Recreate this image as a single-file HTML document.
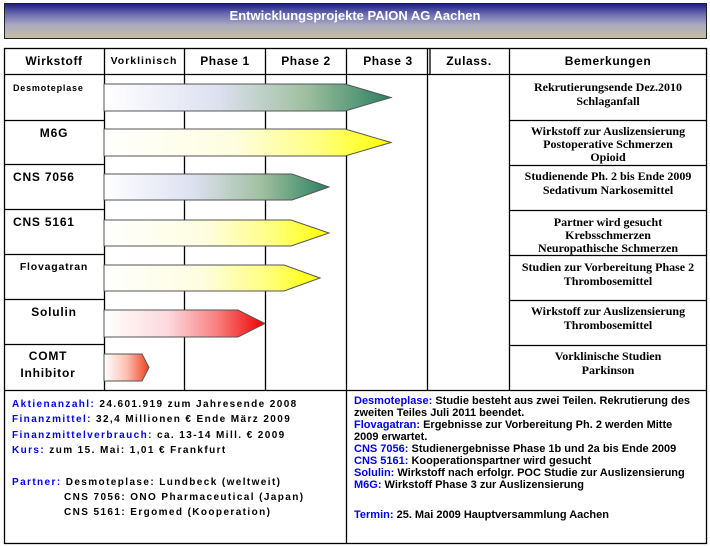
<!DOCTYPE html>
<html><head><meta charset="utf-8"><style>
html,body{margin:0;padding:0;background:#fff;}
svg{display:block;}
.h{font-family:"Liberation Sans",sans-serif;font-weight:bold;font-size:12px;letter-spacing:0.6px;}
.n{font-family:"Liberation Sans",sans-serif;font-weight:bold;font-size:10.5px;letter-spacing:0.8px;}
.r{font-family:"Liberation Serif",serif;font-weight:bold;font-size:12px;}
.b{font-family:"Liberation Sans",sans-serif;font-weight:bold;font-size:10px;letter-spacing:1.4px;}
.c{font-family:"Liberation Sans",sans-serif;font-weight:bold;font-size:11px;}
.bl{fill:#0000ee;}
</style></head><body>
<svg width="710" height="547" viewBox="0 0 710 547" xmlns="http://www.w3.org/2000/svg" xml:space="preserve">
<defs>
<linearGradient id="tg" x1="0" y1="0" x2="0" y2="1">
<stop offset="0" stop-color="#1c1c80"/><stop offset="0.3" stop-color="#6a6ab0"/><stop offset="0.6" stop-color="#a8a8c0"/><stop offset="1" stop-color="#c8c0a0"/></linearGradient>
<linearGradient id="gg" x1="0" y1="0" x2="1" y2="0"><stop offset="0" stop-color="#fff"/><stop offset="0.4" stop-color="#dde0f0"/><stop offset="0.7" stop-color="#a0c0a0"/><stop offset="1" stop-color="#2a8060"/></linearGradient>
<linearGradient id="yg" x1="0" y1="0" x2="1" y2="0"><stop offset="0" stop-color="#fff"/><stop offset="0.45" stop-color="#fdfde0"/><stop offset="0.75" stop-color="#ffff80"/><stop offset="1" stop-color="#ffff00"/></linearGradient>
<linearGradient id="rg" x1="0" y1="0" x2="1" y2="0"><stop offset="0" stop-color="#fff"/><stop offset="0.4" stop-color="#fcd8dc"/><stop offset="0.7" stop-color="#f88080"/><stop offset="1" stop-color="#f00000"/></linearGradient>
<linearGradient id="og" x1="0" y1="0" x2="1" y2="0"><stop offset="0" stop-color="#fff"/><stop offset="0.5" stop-color="#fcc0b0"/><stop offset="1" stop-color="#f04020"/></linearGradient>
</defs>
<rect x="4.5" y="3.5" width="702" height="35" fill="url(#tg)" stroke="#222"/>
<text x="355" y="20" text-anchor="middle" fill="#fff" font-family="Liberation Sans,sans-serif" font-weight="bold" font-size="13">Entwicklungsprojekte PAION AG Aachen</text>
<g stroke="#000" stroke-width="1.3" fill="none">
<rect x="4.5" y="48.5" width="702" height="495"/>
<line x1="4" y1="74.5" x2="707" y2="74.5"/>
<line x1="4" y1="390.5" x2="707" y2="390.5"/>
<line x1="104.5" y1="48" x2="104.5" y2="390"/>
<line x1="184.5" y1="48" x2="184.5" y2="390"/>
<line x1="265.5" y1="48" x2="265.5" y2="390"/>
<line x1="346.5" y1="48" x2="346.5" y2="544"/>
<line x1="427.5" y1="48" x2="427.5" y2="390"/>
<line x1="430" y1="48" x2="430" y2="74"/>
<line x1="509.5" y1="48" x2="509.5" y2="390"/>
<line x1="4" y1="120.5" x2="104" y2="120.5"/><line x1="4" y1="164.5" x2="104" y2="164.5"/><line x1="4" y1="209.5" x2="104" y2="209.5"/><line x1="4" y1="254.5" x2="104" y2="254.5"/><line x1="4" y1="299.5" x2="104" y2="299.5"/><line x1="4" y1="344.5" x2="104" y2="344.5"/>
<line x1="509" y1="120.5" x2="707" y2="120.5"/><line x1="509" y1="165.5" x2="707" y2="165.5"/><line x1="509" y1="210.5" x2="707" y2="210.5"/><line x1="509" y1="255.5" x2="707" y2="255.5"/><line x1="509" y1="300.5" x2="707" y2="300.5"/><line x1="509" y1="345.5" x2="707" y2="345.5"/>
</g>
<g stroke="#555" stroke-width="1">
<polygon points="104,84 345,84 391,97.5 345,111 104,111" fill="url(#gg)"/>
<polygon points="104,129 345,129 391,142.5 345,156 104,156" fill="url(#yg)"/>
<polygon points="104,174 292,174 329,187 292,200 104,200" fill="url(#gg)"/>
<polygon points="104,220 291,220 329,233 291,246 104,246" fill="url(#yg)"/>
<polygon points="104,265 284,265 320,278 284,291 104,291" fill="url(#yg)"/>
<polygon points="104,310 238,310 265,323.5 238,337 104,337" fill="url(#rg)"/>
<polygon points="104,354 142,354 149,367.5 142,381 104,381" fill="url(#og)"/>
</g>
<g class="h">
<text x="54" y="65" text-anchor="middle">Wirkstoff</text>
<text x="144" y="64" text-anchor="middle" font-size="10.5" letter-spacing="1">Vorklinisch</text>
<text x="225" y="65" text-anchor="middle">Phase 1</text>
<text x="306" y="65" text-anchor="middle">Phase 2</text>
<text x="388" y="65" text-anchor="middle">Phase 3</text>
<text x="469" y="65" text-anchor="middle">Zulass.</text>
<text x="608" y="65" text-anchor="middle">Bemerkungen</text>
</g>
<g class="n">
<text x="13" y="91" font-size="9">Desmoteplase</text>
<text x="54" y="137" text-anchor="middle" font-size="12">M6G</text>
<text x="13" y="181" font-size="12">CNS 7056</text>
<text x="13" y="226" font-size="12">CNS 5161</text>
<text x="54" y="270" text-anchor="middle">Flovagatran</text>
<text x="54" y="316" text-anchor="middle" font-size="12">Solulin</text>
<text x="48" y="360" text-anchor="middle" font-size="12">COMT</text>
<text x="48" y="377" text-anchor="middle" font-size="12">Inhibitor</text>
</g>
<g class="r" text-anchor="middle">
<text x="608" y="91">Rekrutierungsende Dez.2010</text><text x="608" y="105">Schlaganfall</text>
<text x="608" y="135">Wirkstoff zur Auslizensierung</text><text x="608" y="148">Postoperative Schmerzen</text><text x="608" y="161">Opioid</text>
<text x="608" y="180">Studienende Ph. 2 bis Ende 2009</text><text x="608" y="194">Sedativum Narkosemittel</text>
<text x="608" y="226">Partner wird gesucht</text><text x="608" y="239">Krebsschmerzen</text><text x="608" y="252">Neuropathische Schmerzen</text>
<text x="608" y="271">Studien zur Vorbereitung Phase 2</text><text x="608" y="285">Thrombosemittel</text>
<text x="608" y="315">Wirkstoff zur Auslizensierung</text><text x="608" y="329">Thrombosemittel</text>
<text x="608" y="360">Vorklinische Studien</text><text x="608" y="374">Parkinson</text>
</g>
<g class="b">
<text x="12" y="407"><tspan class="bl">Aktienanzahl:</tspan> 24.601.919 zum Jahresende 2008</text>
<text x="12" y="422"><tspan class="bl">Finanzmittel:</tspan>  32,4 Millionen € Ende März 2009</text>
<text x="12" y="438"><tspan class="bl">Finanzmittelverbrauch:</tspan> ca. 13-14 Mill. € 2009</text>
<text x="12" y="453"><tspan class="bl">Kurs:</tspan> zum 15. Mai:  1,01 € Frankfurt</text>
<text x="12" y="485"><tspan class="bl">Partner:</tspan> Desmoteplase: Lundbeck (weltweit)</text>
<text x="64" y="500">CNS 7056: ONO Pharmaceutical (Japan)</text>
<text x="64" y="515">CNS 5161: Ergomed (Kooperation)</text>
</g>
<g class="c">
<text x="354" y="404"><tspan class="bl">Desmoteplase:</tspan>  Studie besteht aus zwei Teilen. Rekrutierung des</text>
<text x="354" y="416">zweiten Teiles Juli 2011 beendet.</text>
<text x="354" y="428"><tspan class="bl">Flovagatran:</tspan>  Ergebnisse zur Vorbereitung Ph. 2  werden  Mitte</text>
<text x="354" y="440">2009 erwartet.</text>
<text x="354" y="452"><tspan class="bl">CNS 7056:</tspan>  Studienergebnisse Phase 1b und 2a bis Ende 2009</text>
<text x="354" y="464"><tspan class="bl">CNS 5161:</tspan>  Kooperationspartner wird gesucht</text>
<text x="354" y="476"><tspan class="bl">Solulin:</tspan> Wirkstoff nach erfolgr. POC Studie zur  Auslizensierung</text>
<text x="354" y="488"><tspan class="bl">M6G:</tspan> Wirkstoff Phase 3 zur Auslizensierung</text>
<text x="354" y="518"><tspan class="bl">Termin:</tspan> 25. Mai  2009 Hauptversammlung Aachen</text>
</g>
</svg>
</body></html>
